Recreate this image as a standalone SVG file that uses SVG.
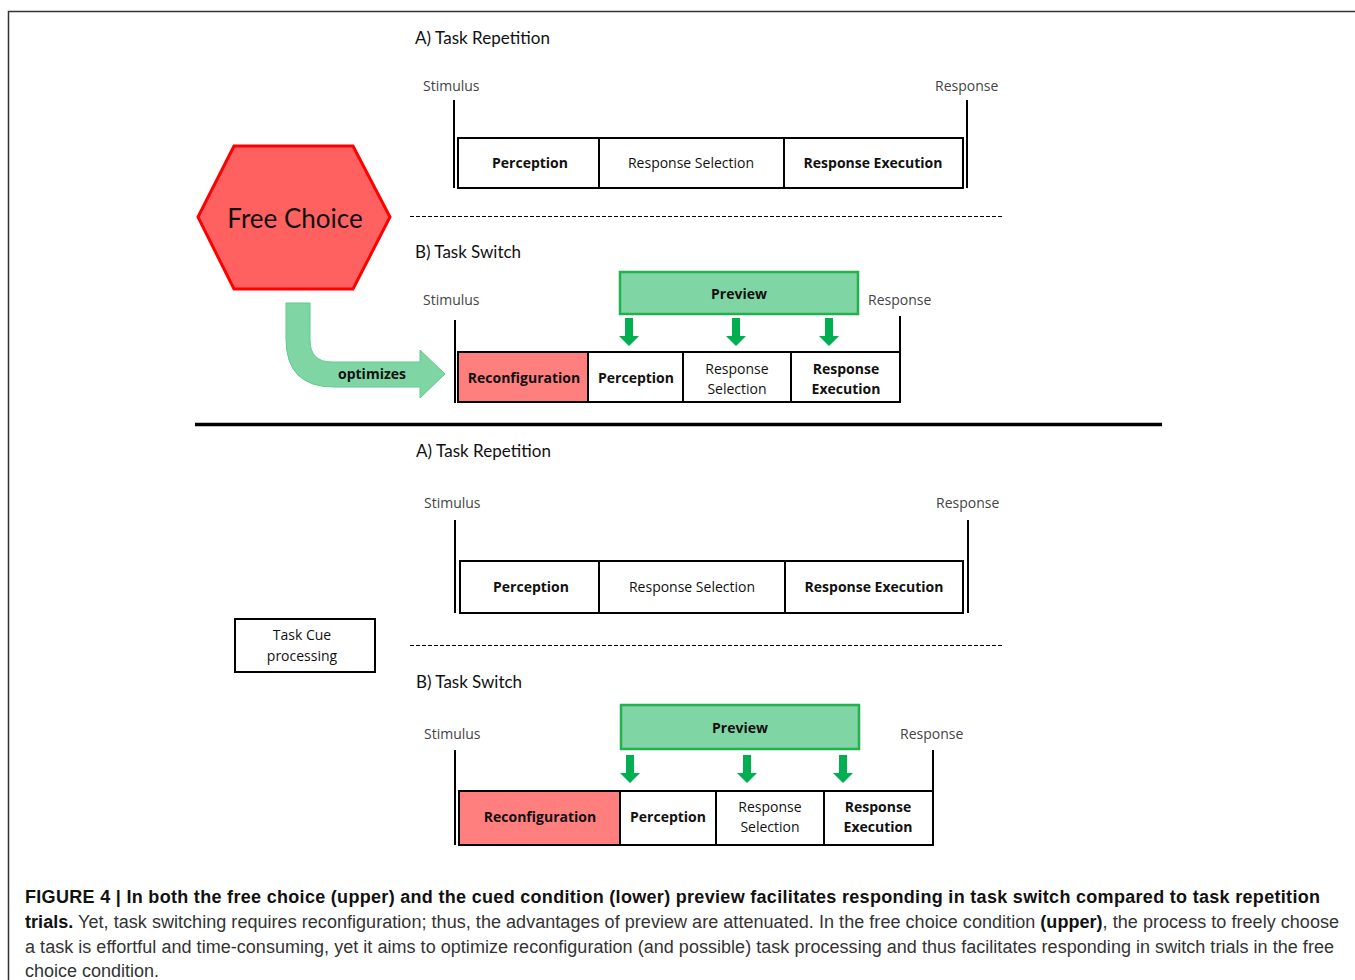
<svg xmlns="http://www.w3.org/2000/svg" width="1355" height="980" viewBox="0 0 1355 980">
<style>
.lbl{font-family:"Open Sans","Liberation Sans",sans-serif;font-size:14px;fill:#111;text-anchor:middle;dominant-baseline:central}
.b{font-weight:bold}
.sr{font-family:"Open Sans","Liberation Sans",sans-serif;font-size:14px;fill:#444}
.title{font-family:"Lato","Open Sans",sans-serif;font-size:17px;fill:#111}
.box{fill:#fff;stroke:#000;stroke-width:2}
.rec{fill:#ff7f7f;stroke:#000;stroke-width:2}
.prev{fill:#7fd6a4;stroke:#22b14c;stroke-width:2.5}
.vl{stroke:#000;stroke-width:2;fill:none}
.dash{stroke:#000;stroke-width:1;stroke-dasharray:4 2;fill:none}
.cap{font-family:"Liberation Sans",Arial,sans-serif;font-size:18px;fill:#333}
.capb{font-weight:bold;fill:#111}
use{fill:#00b050}
</style>
<defs>
<path id="ga" d="M-4,0 H4 V18 H10 L0,28 L-10,18 H-4 Z"/>
</defs>
<rect x="0" y="0" width="1355" height="980" fill="#fff"/>
<path d="M8.5,990 V11.5 H1355" fill="none" stroke="#333" stroke-width="1.5"/>

<g id="free-choice">
<polygon points="198,217 234,146 353,146 390,217 353,289 234,289" fill="#ff6161" stroke="#ff0000" stroke-width="3"/>
<text x="295" y="218" font-family="Lato,'Open Sans',sans-serif" font-size="26" fill="#111" text-anchor="middle" dominant-baseline="central">Free Choice</text>
</g>

<g id="connectors">
<path id="optimizes-arrow" d="M286,303 H310 V340 Q310,362 332,362 H420 V350 L445,374 L420,398 V387 H334 Q286,387 286,339 Z" fill="#7fd6a4" stroke="#5ccb8c" stroke-width="1"/>
<text x="372" y="373" class="lbl b">optimizes</text>
<use href="#ga" x="629" y="318"/>
<use href="#ga" x="736" y="318"/>
<use href="#ga" x="829" y="318"/>
<use href="#ga" x="630" y="755"/>
<use href="#ga" x="747" y="755"/>
<use href="#ga" x="843" y="755"/>
</g>

<g id="upper-a">
<text x="415" y="44" class="title" textLength="135">A) Task Repetition</text>
<text x="423" y="91" class="sr">Stimulus</text>
<text x="935" y="91" class="sr">Response</text>
<line x1="454" y1="100" x2="454" y2="188" class="vl"/>
<line x1="967" y1="100" x2="967" y2="188" class="vl"/>
<rect x="458" y="138" width="141" height="50" class="box"/>
<rect x="599" y="138" width="185" height="50" class="box"/>
<rect x="784" y="138" width="179" height="50" class="box"/>
<text x="530" y="162" class="lbl b">Perception</text>
<text x="691" y="162" class="lbl">Response Selection</text>
<text x="873" y="162" class="lbl b">Response Execution</text>
</g>
<line x1="410" y1="216.5" x2="1003" y2="216.5" class="dash"/>

<g id="upper-b">
<text x="415" y="258" class="title" textLength="106">B) Task Switch</text>
<text x="423" y="305" class="sr">Stimulus</text>
<text x="868" y="305" class="sr">Response</text>
<rect x="620" y="272" width="238" height="42" class="prev"/>
<text x="739" y="293" class="lbl b">Preview</text>
<line x1="455" y1="320" x2="455" y2="403" class="vl"/>
<line x1="900" y1="316" x2="900" y2="352" class="vl"/>
<rect x="458" y="352" width="130" height="50" class="rec"/>
<rect x="588" y="352" width="95" height="50" class="box"/>
<rect x="683" y="352" width="108" height="50" class="box"/>
<rect x="791" y="352" width="109" height="50" class="box"/>
<text x="524" y="377" class="lbl b">Reconfiguration</text>
<text x="636" y="377" class="lbl b">Perception</text>
<text x="737" y="368" class="lbl">Response</text>
<text x="737" y="388" class="lbl">Selection</text>
<text x="846" y="368" class="lbl b">Response</text>
<text x="846" y="388" class="lbl b">Execution</text>
</g>

<line x1="195" y1="424.5" x2="1162" y2="424.5" stroke="#000" stroke-width="3.5"/>

<g id="task-cue">
<rect x="235" y="619" width="140" height="53" class="box"/>
<text x="302" y="634" class="lbl" font-family="Lato,'Open Sans',sans-serif" font-size="15">Task Cue</text>
<text x="302" y="655" class="lbl" font-family="Lato,'Open Sans',sans-serif" font-size="15">processing</text>
</g>

<g id="lower-a">
<text x="416" y="457" class="title" textLength="135">A) Task Repetition</text>
<text x="424" y="508" class="sr">Stimulus</text>
<text x="936" y="508" class="sr">Response</text>
<line x1="455" y1="520" x2="455" y2="613" class="vl"/>
<line x1="968" y1="520" x2="968" y2="613" class="vl"/>
<rect x="460" y="561" width="139" height="52" class="box"/>
<rect x="599" y="561" width="186" height="52" class="box"/>
<rect x="785" y="561" width="178" height="52" class="box"/>
<text x="531" y="586" class="lbl b">Perception</text>
<text x="692" y="586" class="lbl">Response Selection</text>
<text x="874" y="586" class="lbl b">Response Execution</text>
</g>
<line x1="410" y1="645.5" x2="1003" y2="645.5" class="dash"/>

<g id="lower-b">
<text x="416" y="688" class="title" textLength="106">B) Task Switch</text>
<text x="424" y="739" class="sr">Stimulus</text>
<text x="900" y="739" class="sr">Response</text>
<rect x="621" y="705" width="238" height="44" class="prev"/>
<text x="740" y="727" class="lbl b">Preview</text>
<line x1="455" y1="750" x2="455" y2="845" class="vl"/>
<line x1="933" y1="750" x2="933" y2="791" class="vl"/>
<rect x="459" y="791" width="161" height="54" class="rec"/>
<rect x="620" y="791" width="96" height="54" class="box"/>
<rect x="716" y="791" width="108" height="54" class="box"/>
<rect x="824" y="791" width="109" height="54" class="box"/>
<text x="540" y="816" class="lbl b">Reconfiguration</text>
<text x="668" y="816" class="lbl b">Perception</text>
<text x="770" y="806" class="lbl">Response</text>
<text x="770" y="826" class="lbl">Selection</text>
<text x="878" y="806" class="lbl b">Response</text>
<text x="878" y="826" class="lbl b">Execution</text>
</g>

<g id="caption">
<text x="25" y="903" class="cap capb" textLength="1295">FIGURE 4 | In both the free choice (upper) and the cued condition (lower) preview facilitates responding in task switch compared to task repetition</text>
<text x="25" y="928" class="cap" textLength="1314"><tspan class="capb">trials.</tspan> Yet, task switching requires reconfiguration; thus, the advantages of preview are attenuated. In the free choice condition <tspan class="capb">(upper)</tspan>, the process to freely choose</text>
<text x="25" y="953" class="cap" textLength="1309">a task is effortful and time-consuming, yet it aims to optimize reconfiguration (and possible) task processing and thus facilitates responding in switch trials in the free</text>
<text x="25" y="977" class="cap">choice condition.</text>
</g>
</svg>
